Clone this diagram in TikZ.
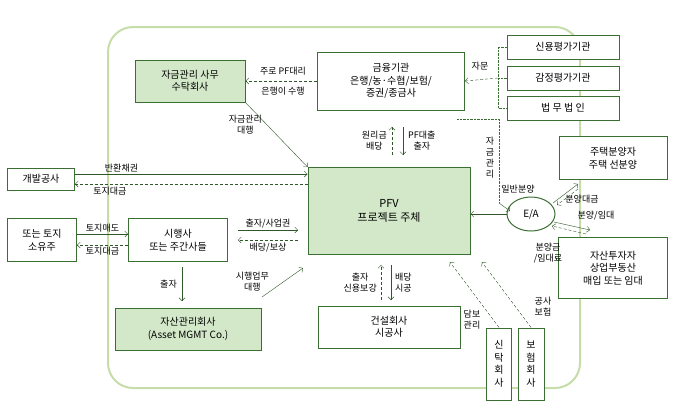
\documentclass[tikz,border=0pt]{standalone}
\usepackage{fontspec}
\setmainfont{Noto Sans CJK KR}
\usetikzlibrary{positioning,arrows.meta,shapes.geometric}
\definecolor{frame}{HTML}{C6DDAA}
\definecolor{dgreen}{HTML}{3B6E32}
\definecolor{lgreen}{HTML}{D3E8C9}
\tikzset{
  box/.style={draw=dgreen, line width=1pt, fill=white, align=center, inner sep=1pt, text=black, font=\fontsize{10}{12.5}\selectfont},
  gbox/.style={box, fill=lgreen},
  lbl/.style={font=\fontsize{9}{11}\selectfont, align=center, inner sep=1pt, text=black},
  sol/.style={-{Straight Barb[length=3pt]}, dgreen!80!black, thin},
  dsh/.style={sol, densely dashed}
}
\begin{document}
\begin{tikzpicture}[x=1pt,y=-1pt]
        \useasboundingbox (0,0) rectangle (688,413);
        % outer frame
        \draw[frame, line width=2pt, rounded corners=25pt] (108,27) rectangle (580,388);

        % boxes
        \node[gbox, minimum width=110, minimum height=42] (sutak) at (190,81) {자금관리 사무\\수탁회사};
        \node[box, minimum width=147, minimum height=58] (bank) at (391,81) {금융기관\\은행/농·수협/보험/\\증권/종금사};
        \node[box, minimum width=112, minimum height=24] (credit) at (563,47) {신용평가기관};
        \node[box, minimum width=112, minimum height=24] (appr) at (563,78) {감정평가기관};
        \node[box, minimum width=112, minimum height=24] (law) at (563,108) {법 무 법 인};
        \node[box, minimum width=108, minimum height=43] (house) at (613,158) {주택분양자\\주택 선분양};
        \node[draw=dgreen, line width=1pt, ellipse, minimum width=48, minimum height=34, inner sep=0pt, font=\fontsize{10}{12}\selectfont] (ea) at (531,214) {E/A};
        \node[box, minimum width=109, minimum height=61] (invest) at (613,268) {자산투자자\\상업부동산\\매입 또는 임대};
        \node[gbox, minimum width=162, minimum height=87, font=\fontsize{11}{14}\selectfont] (pfv) at (389,211) {PFV\\프로젝트 주체};
        \node[box, minimum width=67, minimum height=22] (dev) at (41,179) {개발공사};
        \node[box, minimum width=69, minimum height=43] (owner) at (42,240) {또는 토지\\소유주};
        \node[box, minimum width=99, minimum height=43] (sihaeng) at (178,240) {시행사\\또는 주간사들};
        \node[gbox, minimum width=146, minimum height=42] (amc) at (188,329) {자산관리회사\\(Asset MGMT Co.)};
        \node[box, minimum width=142, minimum height=42] (build) at (389,327) {건설회사\\시공사};
        \node[box, minimum width=25, minimum height=72, inner sep=0pt] (trust) at (499,364) {신\\탁\\회\\사};
        \node[box, minimum width=26, minimum height=72, inner sep=0pt] (insur) at (531,364) {보\\험\\회\\사};

        % connectors
        \draw[sol] (sutak.south east) -- (pfv.north west) node[lbl, pos=0.35, left=4pt] {자금관리\\대행};
        \draw[dsh] (bank.west) -- (sutak.east);
        \node[lbl] (pflbl) at (283,71) {주로 PF대리};
        \node[lbl] (pflbl2) at (283,91) {은행이 수행};
        \draw[dgreen, densely dotted] (credit.west) -| (498,108) -- (law.west) (498,78) -- (appr.west);
        \draw[dsh] (498,78) -- (bank.east);
        \node[lbl] (jamun) at (480,66) {자문};
        \draw[sol] (dev.east |- 0,174) -- (pfv.west |- 0,174) node[lbl, pos=0.2, above=1pt] {반환채권};
        \draw[dsh] (pfv.west |- 0,184) -- (dev.east |- 0,184) node[lbl, pos=0.85, below=2pt] {토지대금};
        \draw[sol] (owner.east |- 0,234) -- (sihaeng.west |- 0,234) node[lbl, midway, above=1pt] {토지매도};
        \draw[dsh] (sihaeng.west |- 0,245) -- (owner.east |- 0,245) node[lbl, midway, below=1pt] {토지대금};
        \draw[sol] (238,230) -- (298,230) node[lbl, midway, above=1pt] {출자/사업권};
        \draw[dsh] (298,240) -- (238,240) node[lbl, midway, below=2pt] {배당/보상};
        \draw[sol] (182,267) -- (182,301) node[lbl, midway, left=4pt] {출자};
        \draw[sol] (262,297) -- (303,268) node[lbl, pos=0.1, above left=2pt and -4pt] {시행업무\\대행};
        \draw[dsh] (392,155) -- (392,127) node[lbl, midway, left=4pt] {원리금\\배당};
        \draw[sol] (403,127) -- (403,155) node[lbl, midway, right=4pt] {PF대출\\출자};
        \draw[dsh] (381,300) -- (381,265) node[lbl, midway, left=3pt] {출자\\신용보강};
        \draw[sol] (391,265) -- (391,300) node[lbl, midway, right=3pt] {배당\\시공};
        \draw[dgreen, thin, densely dotted] (457,119) -- (499,119) -- (499,203);
        \draw[sol] (499,203) -- (510,211);
        \node[lbl] (jagum) at (490,158) {자\\금\\관\\리};
        \draw[sol] (ea.west) -- (pfv.east |- ea.west);
        \node[lbl] (ilban) at (518,189) {일반분양};
        \draw[sol] (553,203) -- (578,184);
        \draw[dsh] (578,189) -- (557,205);
        \node[lbl] (bdg) at (582,199) {분양대금};
        \node[lbl] (bym) at (596,216) {분양/임대};
        \draw[sol] (554,222) -- (590,230);
        \draw[dsh] (586,234) -- (552,226);
        \node[lbl] (bgm) at (548,253) {분양금\\/임대료};
        \draw[dsh] (trust.north) -- (450,262);
        \draw[dsh] (insur.north) -- (482,262);
        \node[lbl] (dambo) at (472,320) {담보\\관리};
        \node[lbl] (gongsa) at (543,307) {공사\\보험};
\end{tikzpicture}
\end{document}
